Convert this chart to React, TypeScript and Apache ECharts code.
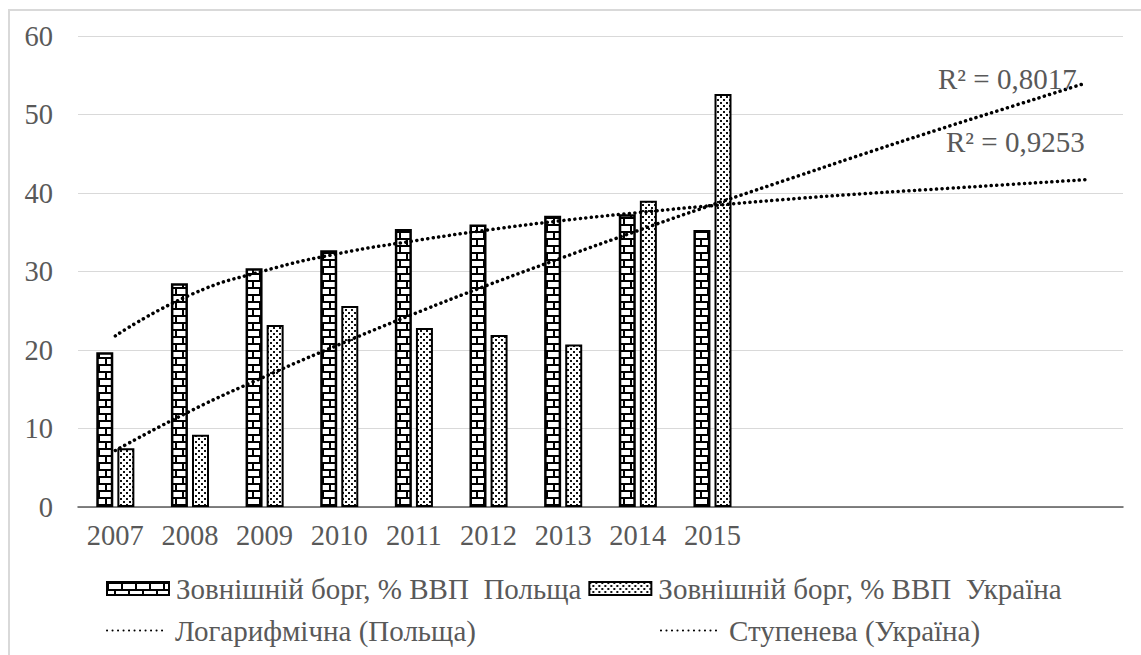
import React, { useEffect, useRef } from 'react';
import * as echarts from 'echarts';

const categories = ['2007', '2008', '2009', '2010', '2011', '2012', '2013', '2014', '2015', '', '', '', '', ''];
const polandDebt = [19.7, 28.5, 30.4, 32.7, 35.4, 36.0, 37.1, 37.3, 35.3];
const ukraineDebt = [7.5, 9.2, 23.2, 25.6, 22.8, 21.9, 20.7, 39.0, 52.6];
const polandLogTrend = [21.8, 27.0, 30.1, 32.3, 33.9, 35.3, 36.5, 37.5, 38.4, 39.2, 39.9, 40.5, 41.1, 41.7];
const ukrainePowerTrend = [7.2, 12.2, 16.6, 20.7, 24.6, 28.3, 31.8, 35.2, 38.5, 41.7, 44.9, 48.0, 51.0, 54.0];
const seriesNames = [
  'Зовнішній борг, % ВВП  Польща',
  'Зовнішній борг, % ВВП  Україна',
  'Логарифмічна (Польща)',
  'Ступенева (Україна)',
];
const r2Labels = ['R² = 0,8017', 'R² = 0,9253'];

const FONT = 'Liberation Serif';
const TEXT = '#595959';

function brickCanvas() {
  const c = document.createElement('canvas');
  c.width = 14;
  c.height = 14;
  const g = c.getContext('2d')!;
  g.fillStyle = '#fff';
  g.fillRect(0, 0, 14, 14);
  g.fillStyle = '#000';
  g.fillRect(0, 0, 14, 2);
  g.fillRect(0, 7, 14, 2);
  g.fillRect(0, 2, 2, 5);
  g.fillRect(7, 9, 2, 5);
  return c;
}

function dotCanvas() {
  const c = document.createElement('canvas');
  c.width = 6;
  c.height = 6;
  const g = c.getContext('2d')!;
  g.fillStyle = '#fff';
  g.fillRect(0, 0, 6, 6);
  g.fillStyle = '#111';
  g.fillRect(0, 0, 2, 2);
  g.fillRect(3, 3, 2, 2);
  return c;
}

export default function App() {
  const ref = useRef<HTMLDivElement>(null);
  useEffect(() => {
    if (!ref.current) return;
    const chart = echarts.init(ref.current, null, { renderer: 'svg' });
    const brick = { image: brickCanvas(), repeat: 'repeat', imageWidth: 14, imageHeight: 14 } as any;
    const dots = { image: dotCanvas(), repeat: 'repeat', imageWidth: 6, imageHeight: 6 } as any;
    const dotted = { color: '#000', width: 3.5, type: [0.1, 5.4], cap: 'round' } as any;
    chart.setOption({
      animation: false,
      backgroundColor: '#fff',
      textStyle: { fontFamily: FONT, color: TEXT },
      grid: { left: 78, right: 18, top: 36, bottom: 148, containLabel: false },
      legend: [
        {
          data: [seriesNames[0], seriesNames[1]],
          left: 106,
          top: 574,
          padding: 0,
          itemWidth: 62,
          itemHeight: 13,
          itemGap: 7,
          icon: 'rect',
          textStyle: { fontFamily: FONT, fontSize: 29, color: TEXT, padding: [0, 0, 0, 2] },
        },
        {
          data: [seriesNames[2], seriesNames[3]],
          left: 106,
          top: 616,
          padding: 0,
          itemWidth: 57,
          itemHeight: 13,
          itemGap: 184,
          itemStyle: { opacity: 0 },
          textStyle: { fontFamily: FONT, fontSize: 29, color: TEXT, padding: [0, 0, 0, 6] },
        },
      ],
      xAxis: {
        type: 'category',
        data: categories,
        boundaryGap: true,
        axisLine: { lineStyle: { color: '#595959', width: 1.5 } },
        axisTick: { alignWithLabel: true, interval: 0, length: 6, lineStyle: { color: '#595959', width: 1.5 } },
        axisLabel: { interval: 0, margin: 14, fontSize: 28.5, color: TEXT, fontFamily: FONT },
      },
      yAxis: {
        type: 'value',
        min: 0,
        max: 60,
        interval: 10,
        axisLine: { show: false },
        axisTick: { show: false },
        splitLine: { lineStyle: { color: '#d9d9d9', width: 1 } },
        axisLabel: { margin: 25, fontSize: 28.5, color: TEXT, fontFamily: FONT },
      },
      series: [
        {
          name: seriesNames[0],
          type: 'bar',
          data: polandDebt,
          barWidth: 17,
          barGap: '24%',
          itemStyle: { color: brick, borderColor: '#000', borderWidth: 2.5 },
          z: 2,
        },
        {
          name: seriesNames[1],
          type: 'bar',
          data: ukraineDebt,
          barWidth: 17,
          itemStyle: { color: dots, borderColor: '#000', borderWidth: 2 },
          z: 2,
        },
        {
          name: seriesNames[2],
          type: 'line',
          data: polandLogTrend,
          smooth: true,
          symbol: 'none',
          lineStyle: dotted,
          itemStyle: { color: '#000' },
          z: 5,
        },
        {
          name: seriesNames[3],
          type: 'line',
          data: ukrainePowerTrend,
          smooth: true,
          symbol: 'none',
          lineStyle: dotted,
          itemStyle: { color: '#000' },
          z: 5,
        },
      ],
      graphic: [
        {
          type: 'rect',
          shape: { x: 9, y: 10, width: 1300, height: 800 },
          style: { fill: 'none', stroke: '#d9d9d9', lineWidth: 2 },
          silent: true,
          z: -1,
        },
        {
          type: 'text',
          x: 938,
          y: 79,
          style: { text: r2Labels[0], fontFamily: FONT, fontSize: 29, fill: TEXT, textVerticalAlign: 'middle' },
          z: 10,
        },
        {
          type: 'text',
          x: 946,
          y: 142,
          style: { text: r2Labels[1], fontFamily: FONT, fontSize: 29, fill: TEXT, textVerticalAlign: 'middle' },
          z: 10,
        },
      ],
    });
    return () => chart.dispose();
  }, []);
  return <div ref={ref} style={{ position: 'fixed', left: 0, top: 0, width: 1141, height: 655 }} />;
}
